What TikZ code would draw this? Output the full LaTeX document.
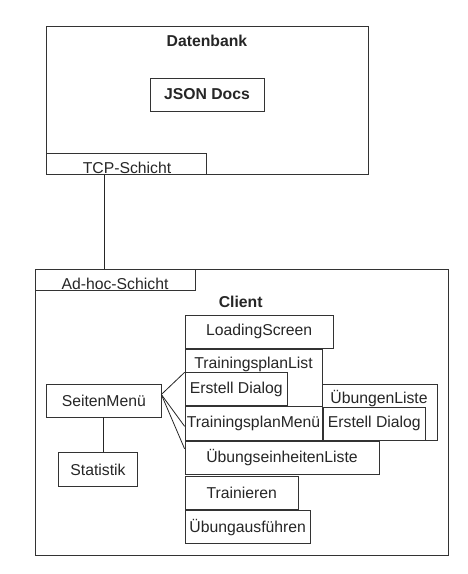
\documentclass[tikz,border=0pt]{standalone}
\usepackage{fontspec}
\setmainfont{Liberation Sans}
\begin{document}
\begin{tikzpicture}[
		x=1pt,
		y=-1pt,
		every node/.style={
				font=\fontsize{15.75pt}{18pt}\selectfont,
				text=black!85,
				inner sep=0pt
			},
		box/.style={
				draw=black!80,
				line width=0.8pt,
				fill=white
			},
		title/.style={
				font=\fontsize{15.75pt}{18pt}\selectfont\bfseries
			},
		link/.style={
				draw=black!85,
				line width=0.8pt
			}
	]
	\useasboundingbox (0,0) rectangle (468,574);
	\node[box, minimum width=413pt, minimum height=286pt] (client) at (241.8,412) {};
	\node[box, minimum width=160pt, minimum height=21.7pt] (adhoc) at (115.3,279.8) {};
	\node[anchor=base] (adhoclabel) at (115,289) {Ad-hoc-Schicht};
	\node[title] (clientlabel) at (240.7,302.3) {Client};
	\node[box, minimum width=321.3pt, minimum height=148.4pt] (db) at (207.3,100.5) {};
	\node[title] (dblabel) at (207,41) {Datenbank};
	\node[box, title, minimum width=114pt, minimum height=33pt] (json) at (207,94.5) {JSON Docs};
	\node[box, minimum width=160pt, minimum height=21.7pt] (tcp) at (126.7,163.8) {};
	\node[anchor=base] (tcplabel) at (127,173.3) {TCP-Schicht};
	\node[box, minimum width=148.3pt, minimum height=33.3pt] (loading) at (259.2,331.7) {LoadingScreen};
	\node[box, minimum width=137pt, minimum height=57.4pt] (tplist) at (253.5,378) {};
	\node (tplistlabel) at (253.5,364.3) {TrainingsplanList};
	\node[box, minimum width=102.3pt, minimum height=33pt] (erstelltp) at (236.2,389.2) {Erstell Dialog};
	\node[box, minimum width=137pt, minimum height=33.3pt] (tpmenu) at (253.5,423.3) {TrainingsplanMenü};
	\node[box, minimum width=114.3pt, minimum height=56pt] (ueliste) at (379.8,412) {};
	\node (uelistelabel) at (379,398.3) {ÜbungenListe};
	\node[box, minimum width=102pt, minimum height=33pt] (erstellue) at (374.3,423.5) {Erstell Dialog};
	\node[box, minimum width=194pt, minimum height=32.6pt] (einheiten) at (282,458) {ÜbungseinheitenListe};
	\node[box, minimum width=113.7pt, minimum height=33pt] (trainieren) at (241.8,492.5) {Trainieren};
	\node[box, minimum width=125.3pt, minimum height=33pt] (ausfuehren) at (247.7,527.2) {Übungausführen};
	\node[box, minimum width=114.3pt, minimum height=33pt] (seiten) at (103.8,400.5) {SeitenMenü};
	\node[box, minimum width=79.4pt, minimum height=33.6pt] (statistik) at (98,469.5) {Statistik};
	\draw[link] ([xshift=-22pt]tcp.south) -- ([xshift=-22pt]tcp.south |- adhoc.north);
	\draw[link] (seiten.south) -- (seiten.south |- statistik.north);
	\draw[link] ([yshift=6pt]seiten.east) -- (erstelltp.north west);
	\draw[link] ([yshift=6pt]seiten.east) -- ([yshift=-3pt]tpmenu.west);
	\draw[link] ([yshift=6pt]seiten.east) -- ([yshift=-7.5pt]einheiten.north west);
\end{tikzpicture}
\end{document}
